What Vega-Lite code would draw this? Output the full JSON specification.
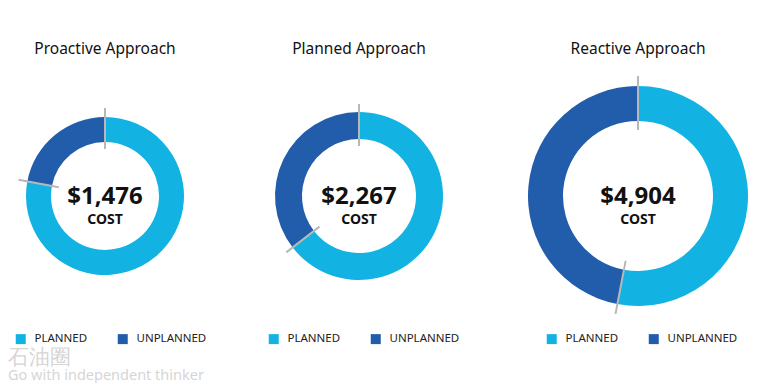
{
  "$schema": "https://vega.github.io/schema/vega-lite/v6.json",
  "background": "white",
  "padding": {"left": 0, "top": 41, "right": 0, "bottom": 0},
  "config": {
    "view": {"stroke": null},
    "font": "Noto Sans",
    "title": {"font": "Noto Sans", "fontSize": 15.5, "fontWeight": "normal", "color": "#111111", "offset": 14},
    "legend": {
      "orient": "none", "direction": "horizontal", "title": null,
      "symbolType": "square", "symbolSize": 100, "symbolStrokeWidth": 0,
      "labelFont": "Noto Sans", "labelFontSize": 11.5, "labelColor": "#222222",
      "labelOffset": 8, "columnPadding": 29
    }
  },
  "title": {
    "text": "\u00a0\u00a0\u00a0\u00a0\u00a0\u00a0\u00a0石油圈", "subtitle": "Go with independent thinker",
    "orient": "bottom", "anchor": "start", "frame": "bounds", "dx": 8,
    "fontSize": 21, "color": "#d6d6d6", "subtitleFontSize": 14.5, "subtitleColor": "#d6d6d6",
    "subtitleFont": "Noto Sans", "offset": 2, "subtitlePadding": 1
  },
  "spacing": 0,
  "resolve": {"legend": {"color": "independent"}, "scale": {"color": "independent", "theta": "independent"}},
  "hconcat": [
    {
      "width": 210, "height": 250,
      "title": "Proactive Approach",
      "resolve": {"scale": {"theta": "independent"}},
      "layer": [
        {
          "data": {"values": [{"type": "PLANNED", "cost": 1151}, {"type": "UNPLANNED", "cost": 325}]},
          "mark": {"type": "arc", "innerRadius": 54, "outerRadius": 79},
          "encoding": {
            "theta": {"field": "cost", "type": "quantitative"},
            "color": {"field": "type", "type": "nominal", "scale": {"domain": ["PLANNED", "UNPLANNED"], "range": ["#12B3E3", "#215DAA"]}, "legend": {"legendX": 15, "legendY": 262}}
          }
        },
        {
          "data": {"values": [{"angle": 0}, {"angle": 280.7}]},
          "mark": {"type": "arc", "innerRadius": 47, "outerRadius": 88, "fillOpacity": 0, "stroke": "#b8b8b8", "strokeWidth": 2},
          "encoding": {
            "theta": {"field": "angle", "type": "quantitative", "scale": {"domain": [0, 360], "range": [0, 6.283185]}},
            "theta2": {"field": "angle"}
          }
        },
        {
          "data": {"values": [{"total": 1476, "label": "COST"}]},
          "layer": [
            {"mark": {"type": "text", "fontSize": 24, "fontWeight": "bold", "dy": 8, "baseline": "alphabetic", "color": "#111111"},
             "encoding": {"text": {"field": "total", "type": "quantitative", "format": "$,.0f"}}},
            {"mark": {"type": "text", "fontSize": 14, "fontWeight": "bold", "dy": 28, "baseline": "alphabetic", "color": "#111111"},
             "encoding": {"text": {"field": "label", "type": "nominal"}}}
          ]
        }
      ]
    },
    {
      "width": 298, "height": 250,
      "title": "Planned Approach",
      "resolve": {"scale": {"theta": "independent"}},
      "layer": [
        {
          "data": {"values": [{"type": "PLANNED", "cost": 1462}, {"type": "UNPLANNED", "cost": 805}]},
          "mark": {"type": "arc", "innerRadius": 57, "outerRadius": 84},
          "encoding": {
            "theta": {"field": "cost", "type": "quantitative"},
            "color": {"field": "type", "type": "nominal", "scale": {"domain": ["PLANNED", "UNPLANNED"], "range": ["#12B3E3", "#215DAA"]}, "legend": {"legendX": 58, "legendY": 262}}
          }
        },
        {
          "data": {"values": [{"angle": 0}, {"angle": 232.2}]},
          "mark": {"type": "arc", "innerRadius": 50, "outerRadius": 92, "fillOpacity": 0, "stroke": "#b8b8b8", "strokeWidth": 2},
          "encoding": {
            "theta": {"field": "angle", "type": "quantitative", "scale": {"domain": [0, 360], "range": [0, 6.283185]}},
            "theta2": {"field": "angle"}
          }
        },
        {
          "data": {"values": [{"total": 2267, "label": "COST"}]},
          "layer": [
            {"mark": {"type": "text", "fontSize": 24, "fontWeight": "bold", "dy": 8, "baseline": "alphabetic", "color": "#111111"},
             "encoding": {"text": {"field": "total", "type": "quantitative", "format": "$,.0f"}}},
            {"mark": {"type": "text", "fontSize": 14, "fontWeight": "bold", "dy": 28, "baseline": "alphabetic", "color": "#111111"},
             "encoding": {"text": {"field": "label", "type": "nominal"}}}
          ]
        }
      ]
    },
    {
      "width": 260, "height": 250,
      "title": "Reactive Approach",
      "resolve": {"scale": {"theta": "independent"}},
      "layer": [
        {
          "data": {"values": [{"type": "PLANNED", "cost": 2599}, {"type": "UNPLANNED", "cost": 2305}]},
          "mark": {"type": "arc", "innerRadius": 75, "outerRadius": 110},
          "encoding": {
            "theta": {"field": "cost", "type": "quantitative"},
            "color": {"field": "type", "type": "nominal", "scale": {"domain": ["PLANNED", "UNPLANNED"], "range": ["#12B3E3", "#215DAA"]}, "legend": {"legendX": 38, "legendY": 262}}
          }
        },
        {
          "data": {"values": [{"angle": 0}, {"angle": 190.8}]},
          "mark": {"type": "arc", "innerRadius": 66, "outerRadius": 120, "fillOpacity": 0, "stroke": "#b8b8b8", "strokeWidth": 2},
          "encoding": {
            "theta": {"field": "angle", "type": "quantitative", "scale": {"domain": [0, 360], "range": [0, 6.283185]}},
            "theta2": {"field": "angle"}
          }
        },
        {
          "data": {"values": [{"total": 4904, "label": "COST"}]},
          "layer": [
            {"mark": {"type": "text", "fontSize": 24, "fontWeight": "bold", "dy": 8, "baseline": "alphabetic", "color": "#111111"},
             "encoding": {"text": {"field": "total", "type": "quantitative", "format": "$,.0f"}}},
            {"mark": {"type": "text", "fontSize": 14, "fontWeight": "bold", "dy": 28, "baseline": "alphabetic", "color": "#111111"},
             "encoding": {"text": {"field": "label", "type": "nominal"}}}
          ]
        }
      ]
    }
  ]
}
